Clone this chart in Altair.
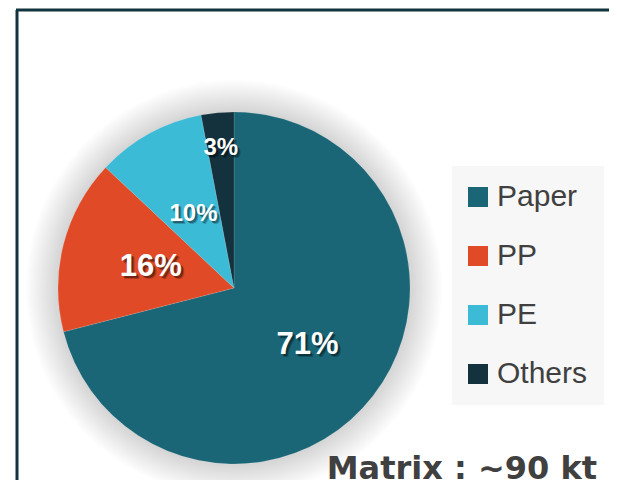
import altair as alt
import pandas as pd
import math

categories = ["Paper", "PP", "PE", "Others"]
values = [71, 16, 10, 3]
colors = ["#1a6677", "#e04a26", "#3cbbd6", "#13323d"]
title_text = "Matrix : ~90 kt"

df = pd.DataFrame({"category": categories, "value": values,
                   "order": list(range(len(categories)))})
df["label"] = df["value"].astype(str) + "%"

CX, CY, R = 226, 278, 176
FONT = "Liberation Sans"
TAU = 2 * math.pi

color_scale = alt.Scale(domain=categories, range=colors)
theta_scale = alt.Scale(domain=[0, 100], range=[0, TAU])
base = alt.Chart(df)
one = pd.DataFrame({"v": [1]})

# soft glow/shadow around the pie
glow_layers = []
for k in range(14):
    glow_layers.append(
        alt.Chart(one).mark_arc(
            color="#000000", opacity=0.011, outerRadius=R + 2 + 2.3 * k, theta=0, theta2=TAU
        ).encode(x=alt.value(CX), y=alt.value(CY))
    )

pie = base.mark_arc(outerRadius=R, stroke="#ffffff", strokeWidth=0.3, strokeOpacity=0.4).encode(
    theta=alt.Theta("value:Q", stack=True, scale=theta_scale),
    order=alt.Order("order:Q"),
    color=alt.Color("category:N", scale=color_scale, sort=categories,
                    legend=alt.Legend(
                        title=None, orient="none", legendX=444, legendY=156,
                        symbolType="square", symbolSize=400, symbolStrokeWidth=0,
                        symbolOpacity=1,
                        labelFont=FONT, labelFontSize=30, labelColor="#404040",
                        labelOffset=4, rowPadding=29,
                        fillColor="#f7f7f7", padding=16, labelLimit=300,
                        symbolOffset=-5)),
    x=alt.value(CX), y=alt.value(CY),
)

lab = base.transform_window(
    cum="sum(value)", sort=[alt.SortField("order")], frame=[None, 0]
).transform_calculate(
    mid="datum.cum - datum.value / 2",
    r="datum.value < 5 ? 141 : (datum.value < 12 ? 84 : (datum.value < 20 ? 86 : 93))",
    fs="datum.value < 12 ? 24 : 31",
)

def text_layer(color, opacity, dx, dy):
    return lab.mark_text(font=FONT, fontWeight="bold", color=color, opacity=opacity,
                         dx=dx, dy=dy, baseline="middle", align="center").encode(
        theta=alt.Theta("mid:Q", stack=None, scale=theta_scale),
        radius=alt.Radius("r:Q", scale=None),
        size=alt.Size("fs:Q", scale=None, legend=None),
        text="label:N",
        x=alt.value(CX), y=alt.value(CY),
    )

shadow2 = text_layer("#000000", 0.2, 3, 3)
shadow = text_layer("#000000", 0.35, 2, 2)
labels = text_layer("#ffffff", 1, 0, 0)

title = alt.Chart(pd.DataFrame({"t": [title_text]})).mark_text(
    font="DejaVu Sans", fontWeight="bold", fontSize=32, color="#404040",
    align="right", baseline="alphabetic"
).encode(text="t:N", x=alt.value(589), y=alt.value(469))

frame_top = alt.Chart(one).mark_rule(
    color="#12343f", strokeWidth=3
).encode(x=alt.value(8), x2=alt.value(601), y=alt.value(0))
frame_left = alt.Chart(one).mark_rule(
    color="#12343f", strokeWidth=3
).encode(x=alt.value(9), y=alt.value(0), y2=alt.value(472))

chart = alt.layer(*glow_layers, pie, shadow2, shadow, labels, title, frame_top, frame_left).properties(
    width=601, height=472,
    autosize=alt.AutoSizeParams(type="fit", contains="padding"),
    padding=0, background="#ffffff",
).configure_view(stroke=None)

chart.save("out.html", embed_options={"renderer": "svg", "actions": False})
